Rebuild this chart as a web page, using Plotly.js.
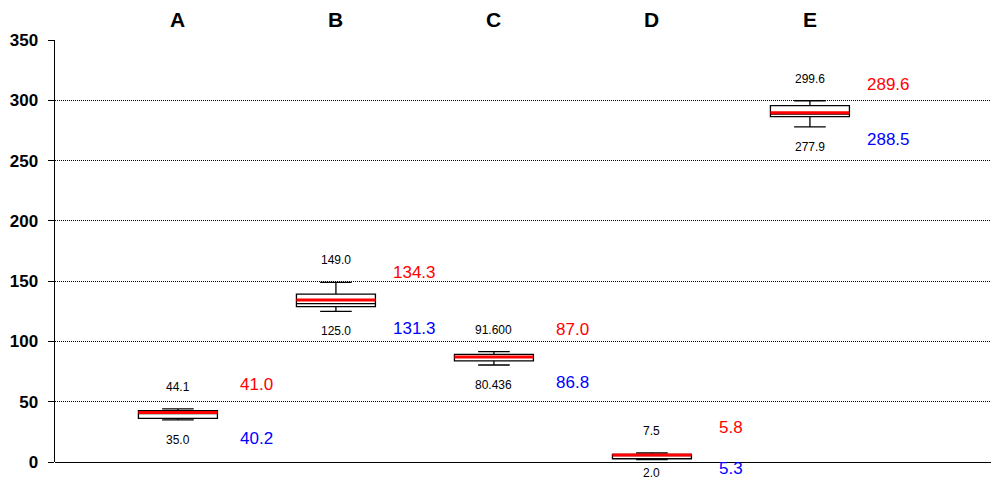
<!DOCTYPE html>
<html>
<head>
<meta charset="utf-8">
<script src="https://cdn.plot.ly/plotly-3.0.1.min.js"></script>
<style>html,body{margin:0;padding:0;background:#fff;}#chart{width:991px;height:479px;}</style>
</head>
<body>
<div id="chart"></div>
<script>
const categories = ["A", "B", "C", "D", "E"];
const q1Values     = [36.2, 128.8, 83.8, 2.7, 286.4];
const q3Values     = [42.5, 139.3, 89.3, 6.4, 295.5];
const medianValues = [40.2, 131.3, 86.8, 5.3, 288.5];
const meanValues   = [41.0, 134.3, 87.0, 5.8, 289.6];
const minValues    = [35.0, 125.0, 80.436, 2.0, 277.9];
const maxValues    = [44.1, 149.0, 91.6, 7.5, 299.6];
const minLabels    = ["35.0", "125.0", "80.436", "2.0", "277.9"];
const maxLabels    = ["44.1", "149.0", "91.600", "7.5", "299.6"];
const yTickValues  = [0, 50, 100, 150, 200, 250, 300, 350];

const pos = categories.map((c, i) => i);
const W = 991, H = 479;
const margin = {l: 55, r: 0, t: 40, b: 17};
const yRange = [0, 350];
const ppu = (H - margin.t - margin.b) / (yRange[1] - yRange[0]);
const FONT = "Liberation Sans, Arial, sans-serif";

const boxTrace = {
  type: "box",
  x: pos,
  q1: q1Values,
  median: medianValues,
  q3: q3Values,
  lowerfence: minValues,
  upperfence: maxValues,
  width: 0.5,
  whiskerwidth: 0.4,
  fillcolor: "#ffffff",
  line: {color: "#000000", width: 1.3},
  boxpoints: false,
  hoverinfo: "skip",
  showlegend: false
};

const mx = [], my = [];
pos.forEach((p, i) => { mx.push(p - 0.25, p + 0.25, null); my.push(meanValues[i], meanValues[i], null); });
const meanTrace = {
  type: "scatter", mode: "lines", x: mx, y: my,
  line: {color: "#ff0000", width: 3}, hoverinfo: "skip", showlegend: false, cliponaxis: false
};

const ann = [];
function clampShift(v, shift, floorPx) {
  const p = v * ppu + shift;
  return Math.max(p, floorPx) - v * ppu;
}
pos.forEach((p, i) => {
  ann.push({x: p, xref: "x", y: 1, yref: "paper", yanchor: "bottom", yshift: 7, text: "<b>" + categories[i] + "</b>",
    showarrow: false, font: {family: FONT, size: 21, color: "#000", weight: 900}});
  ann.push({x: p, y: maxValues[i], yanchor: "middle", yshift: 22, text: maxLabels[i], showarrow: false,
    font: {family: FONT, size: 12, color: "#000"}});
  ann.push({x: p, y: minValues[i], yanchor: "middle", yshift: clampShift(minValues[i], -20, -11), text: minLabels[i], showarrow: false,
    font: {family: FONT, size: 12, color: "#000"}});
  ann.push({x: p + 0.5, y: meanValues[i], yanchor: "middle", yshift: 28, text: meanValues[i].toFixed(1), showarrow: false,
    font: {family: FONT, size: 17, color: "#ff0000"}});
  ann.push({x: p + 0.5, y: medianValues[i], yanchor: "middle", yshift: clampShift(medianValues[i], -25, -6), text: medianValues[i].toFixed(1), showarrow: false,
    font: {family: FONT, size: 17, color: "#0000ff"}});
});

const layout = {
  width: W, height: H,
  margin: margin,
  paper_bgcolor: "#ffffff", plot_bgcolor: "#ffffff",
  font: {family: FONT, color: "#000"},
  showlegend: false,
  xaxis: {range: [-0.778, 5.146], showgrid: false, zeroline: false, showticklabels: false, ticks: "", showline: false, fixedrange: true},
  yaxis: {range: yRange, tickvals: yTickValues,
    showgrid: true, gridcolor: "#000000", gridwidth: 1, griddash: "1px,1px",
    zeroline: true, zerolinecolor: "#000000", zerolinewidth: 1,
    showline: true, linecolor: "#000000", linewidth: 1.5,
    ticks: "outside", ticklen: 6, tickcolor: "#000000", ticklabelstandoff: 6,
    tickfont: {family: FONT, size: 17, color: "#000", weight: "bold"}, fixedrange: true},
  annotations: ann
};

Plotly.newPlot("chart", [boxTrace, meanTrace], layout, {staticPlot: true, displayModeBar: false});
</script>
</body>
</html>
